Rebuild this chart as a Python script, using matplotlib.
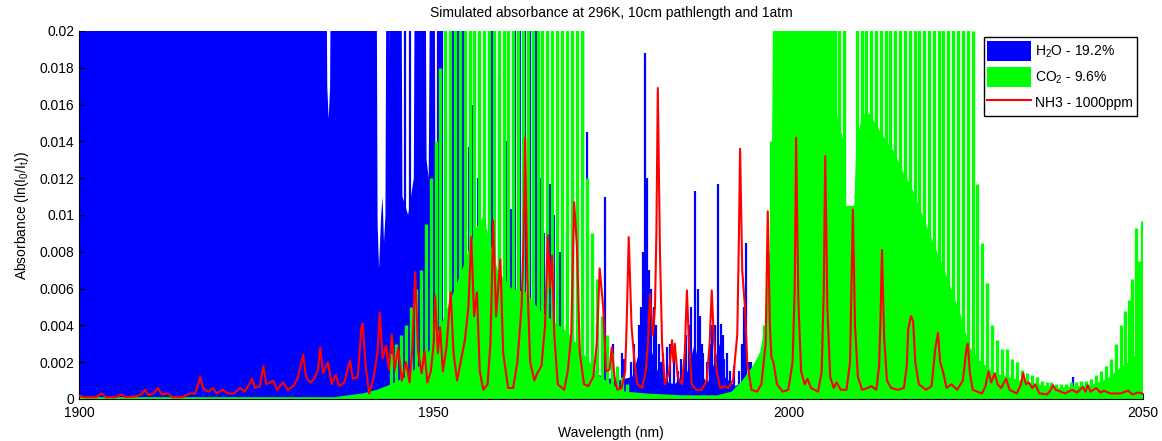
import numpy as np
import matplotlib.pyplot as plt
from matplotlib.patches import Patch
from matplotlib.lines import Line2D
from matplotlib.ticker import FormatStrFormatter

plt.rcParams['font.family'] = ['Liberation Sans', 'DejaVu Sans']
plt.rcParams['mathtext.default'] = 'regular'
plt.rcParams['font.size'] = 10

# absorbance values are given in units of 1e-3; 30 means saturated (above the axis)

# H2O continuum
h2o_wl = [1900.0, 1934.8, 1935.0, 1935.2, 1935.4, 1935.6, 1941.9, 1942.1, 1942.3, 1942.6,
          1942.8, 1943.0, 1943.2, 1943.4, 1943.7, 1943.8, 1943.9, 1945.4, 1945.6, 1946.4,
          1947.2, 1947.4, 1948.8, 1949.0, 1949.3, 1949.6, 1950.1, 1950.3, 1951.0, 1953.0,
          1955.0, 1957.0, 1960.0, 1961.0, 1963.0, 1965.0, 1968.0, 1970.0, 1972.0, 1974.0,
          1976.0, 1978.0, 1979.3, 1980.0, 1980.8, 1982.0, 1984.0, 1985.8, 1986.8, 1987.6,
          1988.6, 1989.6, 1990.3, 1991.0, 1992.5, 1994.0, 1995.0, 1997.0, 1998.0, 2050.0]
h2o_env = [30, 30, 17, 15.2, 17, 30, 30, 9.5, 7.1, 10,
           11, 8.5, 10, 30, 30, 18.5, 30, 30, 11, 10,
           12, 30, 30, 13, 12, 30, 30, 5.0, 4.0, 4.5,
           3.5, 2.5, 3.0, 3.5, 3.0, 2.5, 2.0, 1.8, 1.5, 1.2,
           1.0, 1.2, 3.0, 5.0, 2.5, 1.0, 0.8, 1.5, 3.0, 1.5,
           0.8, 2.0, 3.0, 1.2, 0.7, 1.0, 0.5, 0.3, 0.2, 0.1]

# individual H2O lines
h2o_line_wl = [1945.9, 1946.7, 1950.6, 1950.9, 1951.2, 1952.7, 1953.1, 1953.4, 1954.1, 1954.4,
               1955.0, 1955.4, 1956.2, 1957.8, 1958.2, 1959.2, 1960.2, 1960.9, 1961.5, 1962.2,
               1962.9, 1963.6, 1964.0, 1964.4, 1965.0, 1965.6, 1966.4, 1967.0, 1967.6, 1968.0,
               1968.8, 1969.6, 1970.3, 1971.1, 1971.6, 1972.4, 1973.0, 1974.2, 1975.3, 1976.0,
               1976.6, 1976.9, 1977.8, 1978.3, 1979.0, 1979.2, 1979.5, 1979.8, 1980.1, 1980.4,
               1980.7, 1981.0, 1981.3, 1981.8, 1982.0, 1982.4, 1982.9, 1983.3, 1983.9, 1984.5,
               1984.9, 1985.3, 1985.6, 1986.0, 1986.3, 1986.8, 1987.2, 1987.5, 1987.8, 1988.0,
               1988.5, 1988.9, 1989.2, 1989.6, 1990.1, 1990.5, 1990.8, 1991.0, 1991.4, 1991.8,
               1992.3, 1993.0, 1993.5, 1993.8, 1994.0, 1994.5, 1994.8, 1995.3, 1995.8, 2040.1]
h2o_line_abs = [30, 20, 30, 25, 20, 30, 30, 22, 30, 30,
                13.7, 16, 12, 30, 30, 17.5, 14, 10.3, 20, 30,
                30, 30, 30, 25, 12, 9, 11.7, 10, 8, 8,
                9, 12, 10, 30, 14.5, 5, 4, 11, 3, 1.5,
                2.5, 2.2, 2.0, 3.0, 4, 5, 8, 18.8, 12, 7,
                6, 5, 4, 3, 2.0, 2.5, 2.8, 3, 2.5, 1.5,
                2.2, 2.0, 3.5, 4, 5, 11.3, 6, 4.5, 3, 2.5,
                2, 3, 4, 4, 11.7, 4.1, 3.5, 2.2, 2.5, 1.5,
                1.8, 1.5, 3, 5, 8.5, 2.0, 2.0, 1.0, 1.0, 1.2]

# CO2 continuum
co2_wl = [1900, 1936, 1938, 1940, 1942, 1944, 1946, 1948, 1950, 1952,
          1954, 1956, 1957, 1958, 1959, 1960, 1961, 1963, 1965, 1967,
          1969, 1970.5, 1972, 1973.5, 1975, 1977, 1980, 1985, 1990, 1992,
          1993.5, 1995, 1996, 1997, 1997.6, 1998.0, 2006.3, 2006.5, 2007.8, 2008.0,
          2009.3, 2009.6, 2010.5, 2011.5, 2013, 2014.8, 2016, 2017.6, 2019.5, 2021.8,
          2024.2, 2025.6, 2027, 2029, 2033.7, 2038.3, 2043, 2045, 2046.8, 2048,
          2049.6, 2050]
co2_env = [0.1, 0.1, 0.2, 0.3, 0.5, 0.8, 1.2, 1.8, 3.0, 5.0,
           7.0, 9.3, 9.9, 8.5, 7.0, 6.5, 6.0, 5.8, 4.8, 4.2,
           3.6, 2.8, 2.0, 1.2, 0.8, 0.4, 0.3, 0.2, 0.2, 0.4,
           1.0, 1.8, 2.5, 4.5, 8.0, 30, 30, 16, 14, 10.5,
           10.5, 14, 15.5, 15.5, 14.5, 13.5, 12.5, 11.3, 9.4, 7.2,
           4.7, 2.8, 2.1, 1.4, 0.9, 0.6, 0.8, 1.1, 1.7, 2.0,
           2.7, 2.8]

# CO2 rotational lines
co2_line_wl = [1944.0, 1944.7, 1945.4, 1946.1, 1946.8, 1947.5, 1948.2, 1948.9, 1949.6, 1950.3,
               1950.9, 1951.6, 1952.3, 1953.0, 1953.7, 1954.4, 1955.1, 1955.7, 1956.4, 1957.1,
               1957.8, 1958.5, 1959.2, 1959.9, 1960.5, 1961.2, 1961.9, 1962.6, 1963.3, 1964.0,
               1964.7, 1965.3, 1966.0, 1966.7, 1967.4, 1968.1, 1968.8, 1969.5, 1970.2, 1970.9,
               1971.6, 1972.3, 1973.0, 1973.7, 1974.4, 1975.1, 1975.8, 1976.5, 1977.2,
               1996.0, 1996.6, 1997.2, 1997.6, 2006.6, 2007.2, 2007.8,
               2009.7, 2010.4, 2011.0, 2011.7, 2012.3, 2013.0, 2013.7, 2014.4, 2015.1, 2015.7,
               2016.4, 2017.1, 2017.8, 2018.4, 2019.1, 2019.8, 2020.5, 2021.2, 2021.8, 2022.5,
               2023.2, 2023.9, 2024.6, 2025.3, 2026.0, 2026.6, 2027.3, 2028.0, 2028.7, 2029.4,
               2030.1, 2030.8, 2031.5, 2032.2, 2032.9, 2033.6, 2034.3, 2035.0, 2035.7, 2036.4,
               2037.1, 2037.8, 2038.5, 2039.2, 2039.9, 2040.6, 2041.3, 2042.0, 2042.7, 2043.4,
               2044.1, 2044.8, 2045.5, 2046.2, 2046.9, 2047.5, 2048.0, 2048.5, 2049.0, 2049.5,
               2049.9]
co2_line_abs = [2.5, 3, 3.5, 4, 5, 6, 7, 9.5, 12, 14,
                18, 30, 30, 30, 30, 30, 30, 30, 30, 30,
                30, 30, 30, 30, 30, 30, 30, 30, 30, 30,
                30, 30, 30, 30, 30, 30, 30, 30, 30, 30,
                12, 9, 6.5, 4.5, 3.5, 2.5, 1.8, 1.2, 0.8,
                2.5, 4, 8, 14, 30, 30, 30,
                30, 30, 30, 30, 30, 30, 30, 30, 30, 30,
                30, 30, 30, 30, 30, 30, 30, 30, 30, 30,
                30, 30, 30, 30, 20, 11.7, 8.5, 6.3, 4.0, 3.2,
                2.7, 2.7, 2.2, 2.0, 1.6, 1.4, 1.3, 1.2, 1.0, 0.9,
                0.9, 0.8, 0.8, 0.8, 0.9, 0.9, 1.0, 1.0, 1.1, 1.3,
                1.5, 1.8, 2.2, 3.0, 4.0, 4.8, 5.4, 6.5, 9.3, 7.5,
                9.7]

# NH3 spectrum
nh3_wl = [1900.0, 1900.8, 1902.4, 1903.2, 1903.8, 1905.2, 1906.0, 1906.6, 1908.0, 1908.8,
          1909.3, 1909.8, 1910.5, 1911.1, 1911.7, 1912.5, 1913.2, 1914.6, 1915.6, 1916.4,
          1917.1, 1917.5, 1918.2, 1918.9, 1919.4, 1920.2, 1921.0, 1921.8, 1922.7, 1923.4,
          1924.4, 1924.8, 1925.5, 1926.0, 1926.4, 1927.4, 1927.9, 1928.8, 1929.4, 1930.2,
          1930.8, 1931.3, 1931.6, 1932.0, 1932.6, 1933.2, 1933.7, 1934.0, 1934.4, 1935.1,
          1935.6, 1936.2, 1936.7, 1937.4, 1938.2, 1938.6, 1939.3, 1939.8, 1940.0, 1940.4,
          1940.9, 1941.5, 1942.1, 1942.4, 1942.8, 1943.3, 1943.7, 1944.1, 1944.5, 1945.0,
          1945.5, 1946.1, 1946.6, 1947.0, 1947.4, 1947.8, 1948.3, 1948.7, 1949.1, 1949.6,
          1950.0, 1950.2, 1950.6, 1950.9, 1951.3, 1951.8, 1952.4, 1952.8, 1953.3, 1953.8,
          1954.4, 1954.9, 1955.3, 1955.7, 1956.1, 1956.5, 1957.0, 1957.6, 1958.0, 1958.4,
          1958.8, 1959.4, 1959.8, 1960.5, 1961.2, 1961.8, 1962.4, 1962.7, 1962.9, 1963.2,
          1963.6, 1964.2, 1964.6, 1965.2, 1965.7, 1966.1, 1966.4, 1966.7, 1967.0, 1967.5,
          1968.4, 1968.9, 1969.4, 1969.8, 1970.2, 1970.6, 1971.2, 1971.8, 1972.5, 1973.0,
          1973.4, 1973.9, 1974.3, 1974.8, 1975.1, 1975.5, 1975.9, 1976.5, 1977.0, 1977.2,
          1977.5, 1977.9, 1978.3, 1978.7, 1979.4, 1979.9, 1980.2, 1980.5, 1980.9, 1981.2,
          1981.4, 1981.6, 1981.9, 1982.2, 1982.6, 1983.2, 1983.6, 1983.8, 1984.0, 1984.4,
          1985.0, 1985.4, 1985.7, 1986.0, 1986.4, 1987.0, 1987.8, 1988.5, 1988.9, 1989.2,
          1989.5, 1989.9, 1990.4, 1991.0, 1991.5, 1992.2, 1992.8, 1993.0, 1993.2, 1993.5,
          1993.9, 1994.2, 1994.8, 1995.6, 1996.2, 1996.8, 1997.1, 1997.4, 1997.6, 1997.9,
          1998.4, 1999.2, 2000.0, 2000.6, 2000.9, 2001.1, 2001.4, 2001.8, 2002.3, 2002.7,
          2003.2, 2004.2, 2004.7, 2005.0, 2005.2, 2005.5, 2005.9, 2006.4, 2006.8, 2007.4,
          2008.2, 2008.7, 2008.9, 2009.1, 2009.4, 2009.8, 2010.4, 2011.2, 2011.7, 2012.4,
          2012.8, 2013.0, 2013.2, 2013.5, 2013.9, 2014.5, 2015.4, 2016.3, 2016.7, 2016.9,
          2017.3, 2017.6, 2017.9, 2018.4, 2019.4, 2020.2, 2020.7, 2021.1, 2021.4, 2021.8,
          2022.3, 2023.0, 2023.8, 2024.6, 2025.1, 2025.3, 2025.6, 2026.0, 2027.3, 2027.8,
          2028.2, 2028.6, 2029.1, 2029.5, 2030.0, 2030.7, 2031.2, 2032.2, 2032.8, 2033.1,
          2033.5, 2033.9, 2034.4, 2034.8, 2035.4, 2036.5, 2037.0, 2037.3, 2037.7, 2038.4,
          2039.0, 2040.0, 2040.7, 2041.5, 2041.9, 2042.2, 2042.6, 2043.4, 2044.0, 2044.5,
          2045.4, 2046.8, 2047.9, 2048.5, 2049.3, 2050.0]
nh3_abs = [0.2, 0.1, 0.1, 0.3, 0.1, 0.1, 0.25, 0.1, 0.15, 0.25,
           0.5, 0.2, 0.3, 0.6, 0.25, 0.3, 0.1, 0.1, 0.3, 0.3,
           1.2, 0.6, 0.4, 0.6, 0.3, 0.5, 0.3, 0.3, 0.6, 0.4,
           1.1, 0.6, 0.7, 1.8, 0.8, 1.0, 0.5, 0.9, 0.5, 0.7,
           1.1, 1.9, 2.4, 1.2, 0.9, 1.1, 1.6, 2.8, 1.4, 2.0,
           0.8, 1.3, 0.7, 0.9, 2.1, 1.1, 1.2, 3.8, 4.1, 1.8,
           0.3, 1.1, 2.6, 4.7, 2.2, 2.9, 1.6, 3.5, 1.6, 2.8,
           1.0, 2.0, 0.9, 2.8, 6.9, 2.6, 1.4, 2.6, 0.9, 1.5,
           3.0, 5.6, 2.5, 3.9, 1.5, 2.8, 5.8, 2.5, 1.0, 2.0,
           3.2, 5.0, 8.8, 4.5, 5.8, 1.5, 0.5, 0.8, 3.0, 9.7,
           4.5, 7.6, 2.5, 0.6, 0.6, 2.0, 5.1, 9.0, 14.2, 6.5,
           2.0, 1.0, 1.4, 1.8, 4.0, 8.9, 6.0, 7.8, 3.5, 0.8,
           0.5, 1.5, 3.5, 10.7, 8.3, 2.5, 0.8, 0.7, 1.2, 3.0,
           7.1, 5.0, 1.5, 1.6, 2.8, 1.2, 0.5, 0.6, 1.5, 4.0,
           8.8, 3.9, 2.1, 0.8, 0.6, 1.5, 3.0, 5.7, 3.5, 5.0,
           9.0, 16.9, 8.0, 3.0, 0.8, 1.5, 3.2, 2.0, 3.0, 1.2,
           0.8, 2.5, 5.9, 3.0, 0.8, 0.5, 0.5, 1.0, 3.0, 5.9,
           3.3, 1.5, 0.6, 0.7, 0.6, 1.0, 3.5, 8.0, 13.6, 7.0,
           4.9, 2.0, 0.5, 0.4, 0.8, 3.0, 10.2, 4.0, 2.3, 2.0,
           0.8, 0.4, 0.5, 2.0, 6.0, 14.2, 5.5, 1.5, 0.8, 1.1,
           0.6, 0.4, 1.5, 6.0, 13.2, 5.0, 1.2, 0.6, 0.9, 0.5,
           0.5, 2.0, 6.0, 10.3, 4.0, 1.2, 0.5, 0.6, 0.7, 0.5,
           1.8, 4.5, 8.1, 3.4, 1.0, 0.6, 0.5, 0.6, 1.8, 3.8,
           4.5, 4.2, 2.0, 0.8, 0.5, 0.7, 2.7, 3.6, 2.0, 1.5,
           0.6, 0.8, 0.5, 1.0, 2.7, 3.0, 1.4, 0.5, 0.3, 0.7,
           1.5, 0.9, 1.4, 0.8, 0.6, 1.1, 0.5, 0.3, 0.8, 1.4,
           0.8, 0.9, 0.6, 0.8, 0.3, 0.25, 0.5, 0.75, 0.5, 0.4,
           0.3, 0.5, 0.35, 0.65, 0.4, 0.75, 0.4, 0.6, 0.35, 0.45,
           0.3, 0.3, 0.45, 0.25, 0.35, 0.3]

blue = '#0000ff'
green = '#00ff00'
red = '#ff0000'

fig = plt.figure(figsize=(11.62, 4.41), dpi=100)
ax = fig.add_axes([79/1162, 42/441, 1064/1162, 368/441])

ax.fill_between(h2o_wl, 0, np.array(h2o_env)*1e-3, color=blue, lw=0, zorder=1)
ax.vlines(h2o_line_wl, 0, np.array(h2o_line_abs)*1e-3, color=blue, lw=1.6, zorder=1)
ax.fill_between(co2_wl, 0, np.array(co2_env)*1e-3, color=green, lw=0, zorder=2)
ax.vlines(co2_line_wl, 0, np.array(co2_line_abs)*1e-3, color=green, lw=2.4, zorder=2)
ax.plot(nh3_wl, np.array(nh3_abs)*1e-3, color=red, lw=1.5, zorder=3)

ax.set_xlim(1900, 2050)
ax.set_ylim(0, 0.02)
ax.set_xticks([1900, 1950, 2000, 2050])
ax.set_yticks(np.arange(0, 0.0201, 0.002))
ax.yaxis.set_major_formatter(FormatStrFormatter('%g'))
ax.tick_params(direction='in', length=4, labelsize=10)
ax.tick_params(axis='x', pad=5)
ax.spines['top'].set_visible(False)
ax.spines['right'].set_visible(False)

ax.set_title('Simulated absorbance at 296K, 10cm pathlength and 1atm', fontsize=10, pad=10)
ax.set_xlabel('Wavelength (nm)', fontsize=10, labelpad=4)
ax.set_ylabel('Absorbance (ln(I$_0$/I$_t$))', fontsize=10, labelpad=6)

handles = [Patch(facecolor=blue, edgecolor='none'),
           Patch(facecolor=green, edgecolor='none'),
           Line2D([], [], color=red, lw=1.5)]
labels = ['H$_2$O - 19.2%', 'CO$_2$ - 9.6%', 'NH3 - 1000ppm']
leg = ax.legend(handles, labels, loc='upper right', bbox_to_anchor=(1, 1),
                borderaxespad=0.45, fancybox=False, framealpha=1,
                edgecolor='black', handlelength=3.1, handleheight=1.84,
                labelspacing=0.43, handletextpad=0.35, borderpad=0.25)
leg.get_frame().set_linewidth(1.0)

fig.savefig('out.png', dpi=100)
